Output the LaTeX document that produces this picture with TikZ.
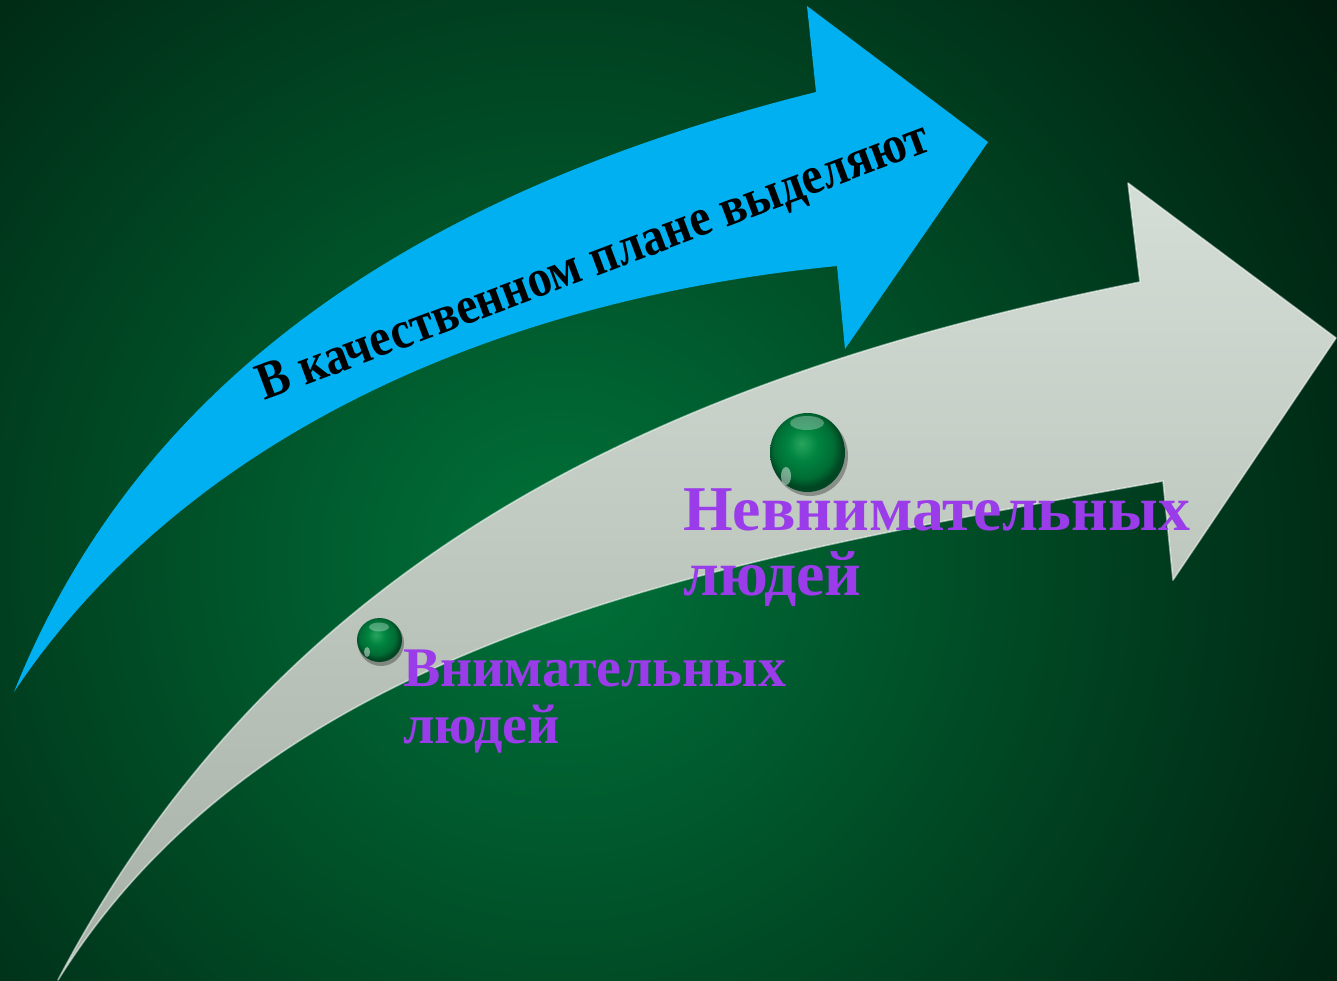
\documentclass[tikz,border=0pt]{standalone}
\usepackage{fontspec}
\setmainfont{Liberation Serif}
\usetikzlibrary{shapes.geometric}
\definecolor{bgIn}{RGB}{0,114,57}
\definecolor{bgOut}{RGB}{0,24,12}
\definecolor{arrowBlue}{RGB}{0,176,240}
\definecolor{grayTop}{RGB}{212,222,214}
\definecolor{grayBot}{RGB}{166,176,166}
\definecolor{labelPurple}{RGB}{155,60,235}
\definecolor{sphA}{RGB}{40,165,95}
\definecolor{sphB}{RGB}{0,132,64}
\definecolor{sphC}{RGB}{0,108,52}
\definecolor{sphD}{RGB}{0,70,34}
\pgfdeclareradialshading{sphereshade}{\pgfpoint{-4bp}{6bp}}{color(0bp)=(sphA); color(10bp)=(sphB); color(20bp)=(sphC); color(25bp)=(sphD); color(50bp)=(sphD)}
\begin{document}
\begin{tikzpicture}[x=1pt,y=-1pt,
  bluearrow/.style={fill=arrowBlue},
  grayarrow/.style={top color=grayTop, bottom color=grayBot},
  edgeglow/.style={draw=white, draw opacity=0.5, line width=1.6pt, line join=round},
  qtext/.style={font=\fontsize{53}{53}\selectfont\bfseries, text=black, inner sep=0pt},
  lblbig/.style={font=\fontsize{63.8}{64}\selectfont\bfseries, text=labelPurple, inner sep=0pt, anchor=base west},
  lblsmall/.style={font=\fontsize{55.9}{56}\selectfont\bfseries, text=labelPurple, inner sep=0pt, anchor=base west},
  sphere/.style={ellipse, inner sep=0pt, shade, shading=sphereshade},
  sphshadow/.style={fill=black, opacity=0.3},
  sphglare/.style={fill=white, opacity=0.3}
]
\useasboundingbox (0,0) rectangle (1337,981);
% background
\fill[bgOut] (0,0) rectangle (1337,981);
\begin{scope}
  \clip (0,0) rectangle (1337,981);
  \shade[inner color=bgIn, outer color=bgOut] (560,560) circle (1000pt);
\end{scope}

% gray arrow
\shade[grayarrow] (58,980) .. controls (283,552) and (670,376) .. (1140,282)
  -- (1128,183) -- (1336,338) -- (1173,580) -- (1163,481)
  .. controls (743,557) and (278,628) .. (58,980) -- cycle;
\draw[edgeglow] (58,980) .. controls (283,552) and (670,376) .. (1140,282)
  -- (1128,183) -- (1336,338) -- (1173,580) -- (1163,481)
  .. controls (743,557) and (278,628) .. (58,980) -- cycle;

% blue arrow
\fill[bluearrow] (14,692) .. controls (149,354) and (456,182) .. (816,92)
  -- (807,6) -- (988,142) -- (845,349) -- (837,266)
  .. controls (472,302) and (174,452) .. (14,692) -- cycle;

\node[qtext, rotate=20.6, anchor=base west] (title) at (264,401) {\scalebox{0.9}[1]{В качественном плане выделяют}};

% spheres
\fill[sphshadow] (810,456) ellipse (38pt and 40pt);
\node[sphere, minimum width=75pt, minimum height=79pt] (bigball) at (807.5,452.5) {};
\fill[sphglare] (807,423) ellipse (17pt and 7pt);
\fill[white, opacity=0.45] (786,476) ellipse (5pt and 9pt);

\fill[sphshadow] (381,643) ellipse (23pt and 23pt);
\node[sphere, minimum width=45pt, minimum height=44pt] (smallball) at (379.5,640) {};
\fill[sphglare] (379,627) ellipse (10pt and 4.5pt);
\fill[white, opacity=0.45] (367,652) ellipse (3pt and 5pt);

% labels
\node[lblbig] (inattentive1) at (683,530) {Невнимательных};
\node[lblbig] (inattentive2) at (683,595) {людей};
\node[lblsmall] (attentive1) at (403,686) {Внимательных};
\node[lblsmall] (attentive2) at (403,743) {людей};
\end{tikzpicture}
\end{document}
